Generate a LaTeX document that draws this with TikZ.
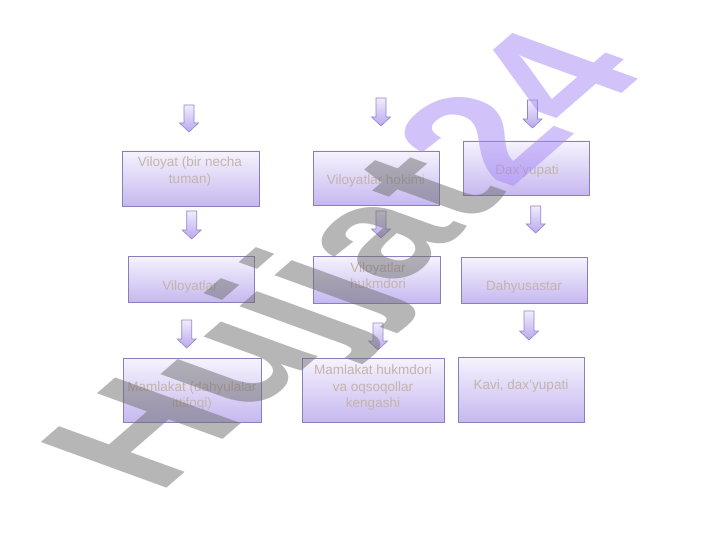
\documentclass[tikz,border=0pt]{standalone}
\usepackage{fontspec}
\setmainfont{Liberation Sans}
\usetikzlibrary{calc}
\definecolor{boxborder}{RGB}{140,126,184}
\definecolor{boxtop}{RGB}{246,243,253}
\definecolor{boxbot}{RGB}{198,184,240}
\definecolor{txtcol}{RGB}{196,180,172}
\definecolor{arrtop}{RGB}{240,236,252}
\definecolor{arrbot}{RGB}{186,168,238}
\definecolor{arrborder}{RGB}{150,132,200}
\definecolor{wmgray}{RGB}{110,110,110}
\definecolor{wmpurple}{RGB}{165,135,245}
\newcommand\myblockarrow[4]{%
  \coordinate (#1) at (#2,#3);
  \path[arrowsty] (#2-5,#3) -- (#2+5,#3) -- (#2+5,#4-9) -- (#2+9.5,#4-9) -- (#2,#4)
     -- (#2-9.5,#4-9) -- (#2-5,#4-9) -- cycle;}
\begin{document}
\begin{tikzpicture}[x=1pt,y=-1pt,
  box/.style={draw=boxborder, line width=0.8pt, top color=boxtop, bottom color=boxbot, inner sep=0pt},
  txt/.style={text=txtcol, font=\fontsize{13.5}{16.5}\selectfont, align=center, inner sep=0pt},
  arrowsty/.style={draw=arrborder, line width=0.6pt, top color=arrtop, bottom color=arrbot, line join=miter}]
\useasboundingbox (0,0) rectangle (720,540);
\fill[white] (0,0) rectangle (720,540);

% boxes
\node[box, minimum width=137pt, minimum height=55pt] (b1) at (190.5,178.5) {};
\node[box, minimum width=126pt, minimum height=54pt] (b2) at (376,178) {};
\node[box, minimum width=126pt, minimum height=54pt] (b3) at (526,168) {};
\node[box, minimum width=126pt, minimum height=46pt] (b4) at (191,279) {};
\node[box, minimum width=127pt, minimum height=47pt] (b5) at (376.5,279.5) {};
\node[box, minimum width=126pt, minimum height=46pt] (b6) at (524,280) {};
\node[box, minimum width=138pt, minimum height=64pt] (b7) at (192,390) {};
\node[box, minimum width=142pt, minimum height=64pt] (b8) at (373,390) {};
\node[box, minimum width=126pt, minimum height=65pt] (b9) at (521,389.5) {};

% texts
\node[txt] (t1) at (190,171.5) {Viloyat (bir necha\\tuman)};
\node[txt] (t2) at (376,181) {Viloyatlar hokimi};
\node[txt] (t3) at (527,171) {Dax'yupati};
\node[txt] (t4) at (190,287) {Viloyatlar};
\node[txt] (t5) at (378,275.5) {Viloyatlar\\hukmdori};
\node[txt] (t6) at (524,287) {Dahyusastar};
\node[txt] (t7) at (192,396) {Mamlakat (dahyulalar\\ittifoqi)};
\node[txt] (t8) at (373,388) {Mamlakat hukmdori\\va oqsoqollar\\kengashi};
\node[txt] (t9) at (521,386) {Kavi, dax'yupati};

% block arrows
\myblockarrow{a1}{189}{105}{132}
\myblockarrow{a2}{381}{98}{126}
\myblockarrow{a3}{532.5}{100}{128}
\myblockarrow{a4}{191.7}{211}{239}
\myblockarrow{a5}{381}{211}{238}
\myblockarrow{a6}{535.7}{206}{233}
\myblockarrow{a7}{186.7}{320}{348}
\myblockarrow{a8}{378}{323}{350}
\myblockarrow{a9}{529}{311}{340}

% watermark
\begin{scope}[shift={(158.6,496)}, cm={0.702,0.610,-1.015,0.369,(0,0)}]
\node[transform shape, anchor=base west, inner sep=0pt,
      font=\fontsize{180}{180}\selectfont\bfseries, fill opacity=0.5, text opacity=0.5] (wm) at (0,0)
  {\textcolor{wmgray}{Hujjat}\textcolor{wmpurple}{24}};
\end{scope}
\end{tikzpicture}
\end{document}
